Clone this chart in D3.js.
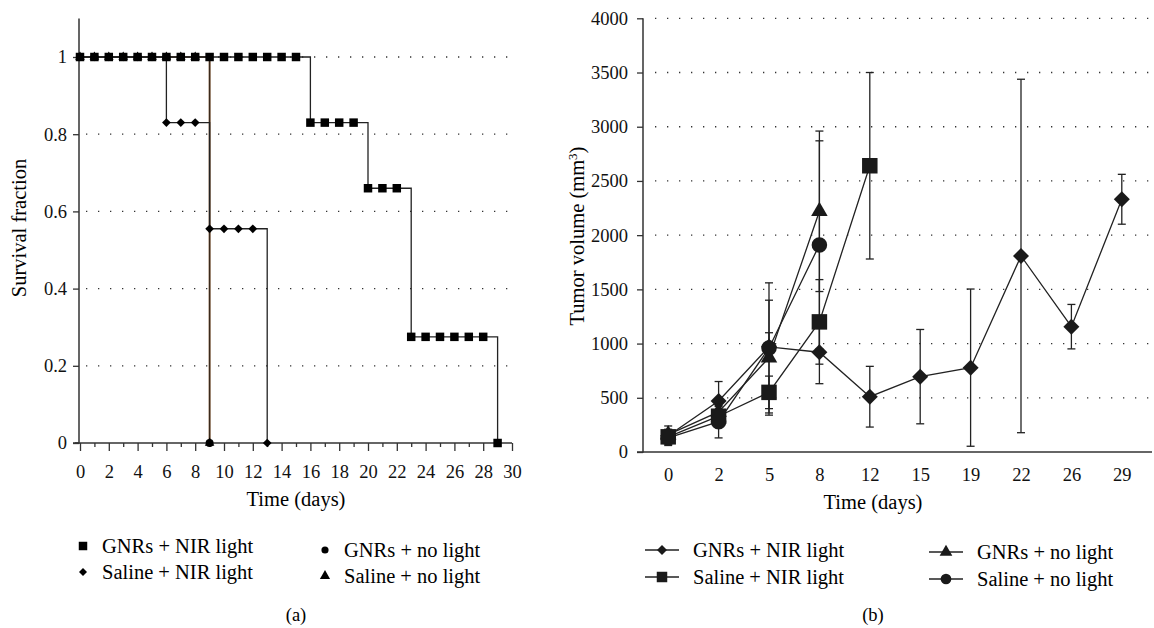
<!DOCTYPE html>
<html><head><meta charset="utf-8">
<script src="https://cdn.jsdelivr.net/npm/d3@7"></script>
<style>
body{margin:0;background:#fff;}
svg{font-family:"Liberation Serif","Times New Roman",serif;}
</style></head>
<body>
<svg id="c" width="1154" height="628"></svg>
<script>
// ---------- Panel (a) data: Kaplan-Meier survival ----------
const gnrNirDays = d3.range(0, 30);
const gnrNirSurv = [1,1,1,1,1,1,1,1,1,1,1,1,1,1,1,1,0.83,0.83,0.83,0.83,0.66,0.66,0.66,0.275,0.275,0.275,0.275,0.275,0.275,0];
const salNirDays = d3.range(0, 14);
const salNirSurv = [1,1,1,1,1,1,0.83,0.83,0.83,0.555,0.555,0.555,0.555,0];
const gnrNoDays = d3.range(0, 10);
const gnrNoSurv = [1,1,1,1,1,1,1,1,1,0];
const salNoDays = d3.range(0, 10);
const salNoSurv = [1,1,1,1,1,1,1,1,1,0];
const survYTicks = [0, 0.2, 0.4, 0.6, 0.8, 1];
const survXTicks = d3.range(0, 31);

// ---------- Panel (b) data: tumor volume ----------
const timeCats = ["0","2","5","8","12","15","19","22","26","29"];
const volYTicks = [0,500,1000,1500,2000,2500,3000,3500,4000];
const gnrNirVol = [150, 470, 970, 920, 510, 695, 778, 1808, 1156, 2331];
const gnrNirErr = [90, 180, 130, 290, 280, 435, 725, 1630, 205, 230];
const salNirVol = [140, 330, 550, 1200, 2640];
const salNirErr = [60, 90, 150, 390, 860];
const gnrNoVol = [160, 370, 870, 2220];
const gnrNoErr = [50, 100, 530, 740];
const salNoVol = [130, 280, 960, 1910];
const salNoErr = [50, 150, 600, 960];

const svg = d3.select("#c");
const FONT_TICK = 18.5, FONT_LAB = 20.5;

// ================= Panel (a) =================
const xA = d3.scaleLinear().domain([0,30]).range([80,512]);
const yA = d3.scaleLinear().domain([0,1.1]).range([443,18.4]);
const gA = svg.append("g");

gA.selectAll("line.grid").data([0.2,0.4,0.6,0.8,1]).join("line")
  .attr("x1", xA(0)+6).attr("x2", xA(30))
  .attr("y1", d=>yA(d)).attr("y2", d=>yA(d))
  .attr("stroke","#333").attr("stroke-width",1.3).attr("stroke-dasharray","1.3,10.7");

const axYA = gA.append("g").attr("transform",`translate(${xA(0)-1},0)`)
  .call(d3.axisLeft(yA).tickValues(survYTicks).tickSize(6).tickPadding(6).tickFormat(d3.format("~g")));
const axXA = gA.append("g").attr("transform",`translate(0,${yA(0)})`)
  .call(d3.axisBottom(xA).tickValues(survXTicks).tickSize(8).tickPadding(14)
    .tickFormat(d => d%2===0 ? d : ""));
axXA.selectAll(".tick").filter(d=>d%2===1).select("line").attr("y2",4);
[axYA, axXA].forEach(a=>{
  a.select(".domain").attr("stroke","#333").attr("stroke-width",1.5);
  a.selectAll(".tick line").attr("stroke","#333").attr("stroke-width",1.3);
  a.selectAll("text").attr("font-size",FONT_TICK).attr("fill","#111").attr("font-family","Liberation Serif");
});
axYA.select(".domain").attr("d",`M-6,${yA(0)}H0V${yA(1.1)}`);
axXA.select(".domain").attr("d",`M${xA(0)-5},0H${xA(30)}`);

const stepLine = d3.line().curve(d3.curveStepAfter);
function survPath(days, vals, color, w){
  gA.append("path").attr("d", stepLine(days.map((d,i)=>[xA(d), yA(vals[i])])))
    .attr("fill","none").attr("stroke",color).attr("stroke-width",w);
}
survPath(gnrNoDays, gnrNoSurv, "#b0703a", 1.6);
survPath(salNoDays, salNoSurv, "#3a2a1c", 1.6);
survPath(salNirDays, salNirSurv, "#222", 1.3);
survPath(gnrNirDays, gnrNirSurv, "#222", 1.3);

const sym = (type,size)=>d3.symbol().type(type).size(size)();
function markers(g, pts, path, rot, fill){
  g.selectAll(null).data(pts).join("path").attr("d", path)
    .attr("transform", d=>`translate(${d[0]},${d[1]})${rot?" rotate(45)":""}`).attr("fill",fill||"#000");
}
markers(gA, gnrNoDays.map((d,i)=>[xA(d),yA(gnrNoSurv[i])]), sym(d3.symbolCircle,50));
markers(gA, salNoDays.map((d,i)=>[xA(d),yA(salNoSurv[i])]), sym(d3.symbolTriangle,40));
markers(gA, salNirDays.map((d,i)=>[xA(d),yA(salNirSurv[i])]), sym(d3.symbolSquare,38), true);
markers(gA, gnrNirDays.map((d,i)=>[xA(d),yA(gnrNirSurv[i])]), sym(d3.symbolSquare,72));

gA.append("text").attr("x",296).attr("y",506).attr("text-anchor","middle")
  .attr("font-size",FONT_LAB).text("Time (days)");
gA.append("text").attr("transform","translate(26,228) rotate(-90)").attr("text-anchor","middle")
  .attr("font-size",FONT_LAB).text("Survival fraction");

const legA = [
  {t:"GNRs + NIR light", s:sym(d3.symbolSquare,72), r:false, x:83, y:546},
  {t:"Saline + NIR light", s:sym(d3.symbolSquare,32), r:true, x:83, y:572},
  {t:"GNRs + no light", s:sym(d3.symbolCircle,40), r:false, x:325, y:550},
  {t:"Saline + no light", s:sym(d3.symbolTriangle,45), r:false, x:325, y:576}
];
legA.forEach(l=>{
  gA.append("path").attr("d",l.s).attr("fill","#000")
    .attr("transform",`translate(${l.x},${l.y})${l.r?" rotate(45)":""}`);
  gA.append("text").attr("x",l.x+19).attr("y",l.y+7).attr("font-size",FONT_LAB).text(l.t);
});
gA.append("text").attr("x",296).attr("y",621).attr("text-anchor","middle").attr("font-size",FONT_TICK).text("(a)");

// ================= Panel (b) =================
const xB = d3.scalePoint().domain(timeCats).range([643,1147]).padding(0.5);
const yB = d3.scaleLinear().domain([0,4000]).range([452,18.3]);
const gB = svg.append("g");

gB.selectAll("line.grid").data(volYTicks.slice(1)).join("line")
  .attr("x1", 655).attr("x2", 1152)
  .attr("y1", d=>yB(d)).attr("y2", d=>yB(d))
  .attr("stroke","#333").attr("stroke-width",1.3).attr("stroke-dasharray","1.3,10.7");

const axYB = gB.append("g").attr("transform",`translate(643,0)`)
  .call(d3.axisLeft(yB).tickValues(volYTicks).tickSize(6).tickPadding(9).tickFormat(d3.format("d")));
const axXB = gB.append("g").attr("transform",`translate(0,${yB(0)})`)
  .call(d3.axisBottom(xB).tickSize(0).tickPadding(16));
[axYB, axXB].forEach(a=>{
  a.select(".domain").attr("stroke","#333").attr("stroke-width",1.5);
  a.selectAll(".tick line").attr("stroke","#333").attr("stroke-width",1.3);
  a.selectAll("text").attr("font-size",FONT_TICK).attr("fill","#111").attr("font-family","Liberation Serif");
});
axYB.select(".domain").attr("d",`M-6,${yB(0)}H0V${yB(4000)}`);
axXB.select(".domain").attr("d",`M643,0H1152`);

const series = [
  {v:gnrNirVol, e:gnrNirErr, s:sym(d3.symbolSquare,128), r:true},
  {v:gnrNoVol, e:gnrNoErr, s:sym(d3.symbolTriangle,118), r:false},
  {v:salNoVol, e:salNoErr, s:sym(d3.symbolCircle,190), r:false},
  {v:salNirVol, e:salNirErr, s:sym(d3.symbolSquare,240), r:false}
];
const lineB = d3.line();
series.forEach(sr=>{
  sr.v.forEach((v,i)=>{
    const x = xB(timeCats[i]);
    const y1 = yB(v+sr.e[i]), y0 = yB(Math.max(0,v-sr.e[i]));
    gB.append("line").attr("x1",x).attr("x2",x).attr("y1",y1).attr("y2",y0).attr("stroke","#222").attr("stroke-width",1.3);
    [y1,y0].forEach(yy=>gB.append("line").attr("x1",x-4).attr("x2",x+4).attr("y1",yy).attr("y2",yy).attr("stroke","#222").attr("stroke-width",1.3));
  });
});
series.forEach(sr=>{
  gB.append("path").attr("d", lineB(sr.v.map((v,i)=>[xB(timeCats[i]), yB(v)])))
    .attr("fill","none").attr("stroke","#222").attr("stroke-width",1.3);
});
series.forEach(sr=>{
  markers(gB, sr.v.map((v,i)=>[xB(timeCats[i]), yB(v)]), sr.s, sr.r, "#1a1a1a");
});

gB.append("text").attr("x",873).attr("y",509).attr("text-anchor","middle").attr("font-size",FONT_LAB).text("Time (days)");
const yl = gB.append("text").attr("transform","translate(584,236) rotate(-90)").attr("text-anchor","middle").attr("font-size",FONT_LAB);
yl.append("tspan").text("Tumor volume (mm");
yl.append("tspan").attr("dy",-7).attr("font-size",13).text("3");
yl.append("tspan").attr("dy",7).text(")");

const legB = [
  {t:"GNRs + NIR light", s:sym(d3.symbolSquare,50), r:true, x:662, y:550},
  {t:"Saline + NIR light", s:sym(d3.symbolSquare,110), r:false, x:662, y:577},
  {t:"GNRs + no light", s:sym(d3.symbolTriangle,70), r:false, x:946, y:552},
  {t:"Saline + no light", s:sym(d3.symbolCircle,90), r:false, x:946, y:579}
];
legB.forEach(l=>{
  gB.append("line").attr("x1",l.x-17).attr("x2",l.x+17).attr("y1",l.y).attr("y2",l.y).attr("stroke","#222").attr("stroke-width",1.3);
  gB.append("path").attr("d",l.s).attr("fill","#1a1a1a")
    .attr("transform",`translate(${l.x},${l.y})${l.r?" rotate(45)":""}`);
  gB.append("text").attr("x",l.x+31).attr("y",l.y+7).attr("font-size",FONT_LAB).text(l.t);
});
gB.append("text").attr("x",873).attr("y",621).attr("text-anchor","middle").attr("font-size",FONT_TICK).text("(b)");
</script>
</body></html>
